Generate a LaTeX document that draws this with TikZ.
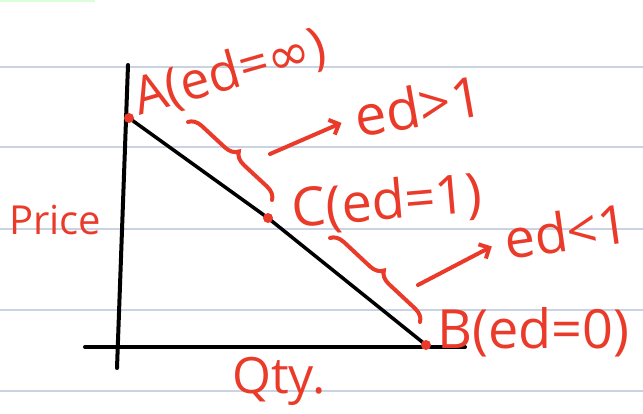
\documentclass[tikz,border=0pt]{standalone}
\usepackage{fontspec}
\setmainfont{Open Sans}
\newfontfamily\symfont{DejaVu Sans}
\usetikzlibrary{arrows.meta,decorations.pathreplacing}
\definecolor{ink}{HTML}{EA3B2A}
\definecolor{rulecol}{HTML}{C9D3E3}

\begin{document}
\begin{tikzpicture}[x=1pt, y=-1pt, >={Straight Barb[length=8pt,width=16pt]},
  axis/.style={line width=4pt, line cap=round},
  hand/.style={text=ink, font=\fontsize{#1}{#1}\selectfont, inner sep=0pt, anchor=base west},
  hand/.default=52,
  brace/.style={draw=ink, line width=4pt, line cap=round, decorate,
    decoration={brace, amplitude=13pt}},
  pointer/.style={draw=ink, line width=4pt, line cap=round, ->, shorten >=14pt}]
  \useasboundingbox (0,0) rectangle (643,413);
  % ruled paper
  \foreach \y in {67,147,229,310,391}
    \draw[rulecol, line width=1.5pt] (0,\y) -- (643,\y);
  \draw[green!15, line width=2pt] (0,0.5) -- (95,0.5);
  % axes
  \draw[axis] (128,65) -- (117,368);
  \draw[axis] (85,347) -- (465,347);
  % demand line and its points
  \coordinate (A) at (129,118);
  \coordinate (C) at (268,218);
  \coordinate (B) at (426,345);
  \draw[line width=3.5pt] (A) -- (C) -- (B);
  \foreach \p in {A,C,B}
    \fill[ink] (\p) circle (5pt);
  \node[hand=52, rotate=16] (Alab) at (139,116) {A(ed={\symfont ∞})};
  \node[hand=54, rotate=5] (Clab) at (293,228) {C(ed=1)};
  \node[hand=54] (Blab) at (437,348) {B(ed=0)};
  \node[hand=40] (price) at (9,234) {Price};
  \node[hand=50] (qty) at (232,393) {Qty.};
  % elastic and inelastic parts
  \node[hand=56, rotate=10] (gt) at (358,138) {ed>1};
  \node[hand=54, rotate=8] (lt) at (507,260) {ed<1};
  \coordinate (b1s) at (188,122);
  \coordinate (b1e) at (272,200);
  \coordinate (b2s) at (330,238);
  \coordinate (b2e) at (420,322);
  \coordinate (g1) at (270,154);
  \coordinate (g2) at (418,285);
  \draw[brace] (b1s) -- (b1e);
  \draw[brace] (b2s) -- (b2e);
  \draw[pointer] (g1) -- (gt.west);
  \draw[pointer] (g2) -- (lt.west);
\end{tikzpicture}
\end{document}
